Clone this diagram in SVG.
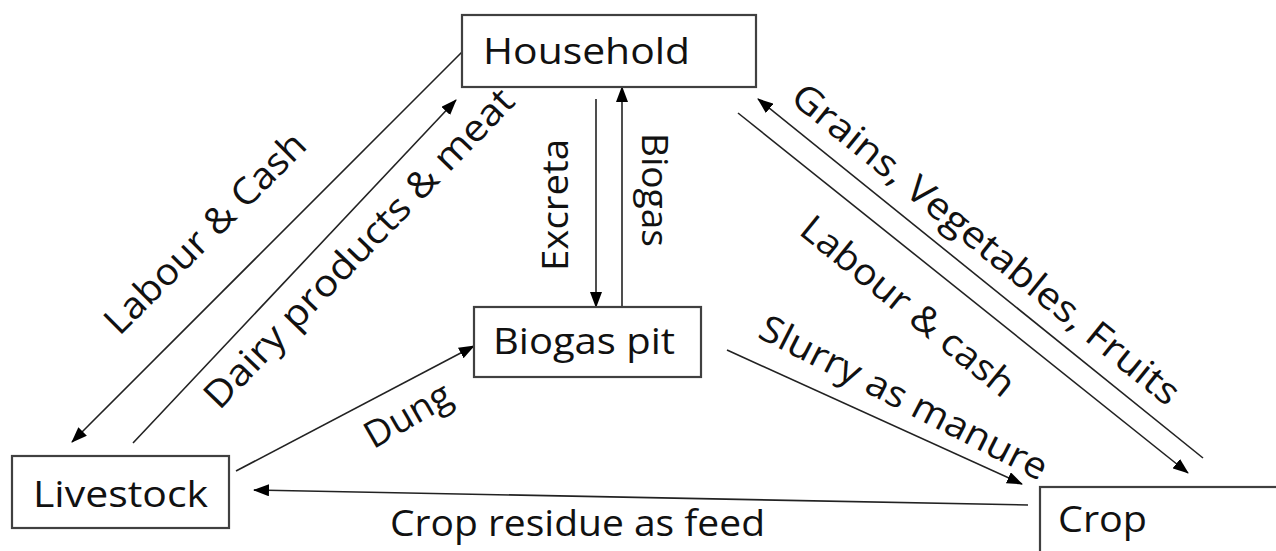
<svg xmlns="http://www.w3.org/2000/svg" width="1276" height="551" viewBox="0 0 1276 551">
<style>
.box{fill:#fff;stroke:#404040;stroke-width:2.2}
.lbl{font-family:"Open Sans","Liberation Sans",sans-serif;font-size:37px;fill:#111}
.ln{fill:none;stroke:#222;stroke-width:1.6}
.ar{marker-end:url(#ah)}
</style>
<defs>
<marker id="ah" markerUnits="userSpaceOnUse" markerWidth="16" markerHeight="12" viewBox="0 0 16 12" refX="15" refY="6" orient="auto">
<path d="M0,0 L16,6 L0,12 z" fill="#000"/>
</marker>
</defs>
<rect width="1276" height="551" fill="#fff"/>
<g id="connectors">
<line class="ln ar" x1="462" y1="52" x2="72" y2="442"/>
<line class="ln ar" x1="133" y1="443" x2="456" y2="100"/>
<line class="ln ar" x1="236" y1="471" x2="474" y2="346"/>
<line class="ln ar" x1="596" y1="99" x2="596" y2="307"/>
<line class="ln ar" x1="622" y1="307" x2="622" y2="87"/>
<line class="ln ar" x1="1203" y1="458" x2="758" y2="99"/>
<line class="ln ar" x1="738" y1="113" x2="1188" y2="473"/>
<line class="ln ar" x1="727" y1="350" x2="1022" y2="484"/>
<line class="ln ar" x1="1028" y1="505" x2="254" y2="490"/>
<text class="lbl" transform="translate(214,242) rotate(-45)" text-anchor="middle" textLength="268" lengthAdjust="spacingAndGlyphs">Labour &amp; Cash</text>
<text class="lbl" transform="translate(368,257) rotate(-46)" text-anchor="middle" textLength="428" lengthAdjust="spacingAndGlyphs">Dairy products &amp; meat</text>
<text class="lbl" transform="translate(414,426) rotate(-30)" text-anchor="middle" textLength="94" lengthAdjust="spacingAndGlyphs">Dung</text>
<text class="lbl" transform="translate(568,205) rotate(-90)" text-anchor="middle" textLength="132" lengthAdjust="spacingAndGlyphs">Excreta</text>
<text class="lbl" transform="translate(642,190) rotate(90)" text-anchor="middle" textLength="114" lengthAdjust="spacingAndGlyphs">Biogas</text>
<text class="lbl" transform="translate(978,254) rotate(39)" text-anchor="middle" textLength="487" lengthAdjust="spacingAndGlyphs">Grains, Vegetables, Fruits</text>
<text class="lbl" transform="translate(900,316) rotate(39)" text-anchor="middle" textLength="264" lengthAdjust="spacingAndGlyphs">Labour &amp; cash</text>
<text class="lbl" transform="translate(898,409) rotate(27)" text-anchor="middle" textLength="318" lengthAdjust="spacingAndGlyphs">Slurry as manure</text>
<text class="lbl" x="390" y="536" textLength="375" lengthAdjust="spacingAndGlyphs">Crop residue as feed</text>
</g>
<g id="household">
<rect class="box" x="462" y="15" width="294" height="72"/>
<text class="lbl" x="483" y="64" textLength="207" lengthAdjust="spacingAndGlyphs">Household</text>
</g>
<g id="livestock">
<rect class="box" x="12" y="456" width="217" height="72"/>
<text class="lbl" x="33" y="507" textLength="175" lengthAdjust="spacingAndGlyphs">Livestock</text>
</g>
<g id="biogas-pit">
<rect class="box" x="474" y="307" width="227" height="70"/>
<text class="lbl" x="493" y="354" textLength="182" lengthAdjust="spacingAndGlyphs">Biogas pit</text>
</g>
<g id="crop">
<rect class="box" x="1040" y="487" width="260" height="80"/>
<text class="lbl" x="1058" y="532" textLength="89" lengthAdjust="spacingAndGlyphs">Crop</text>
</g>
</svg>
